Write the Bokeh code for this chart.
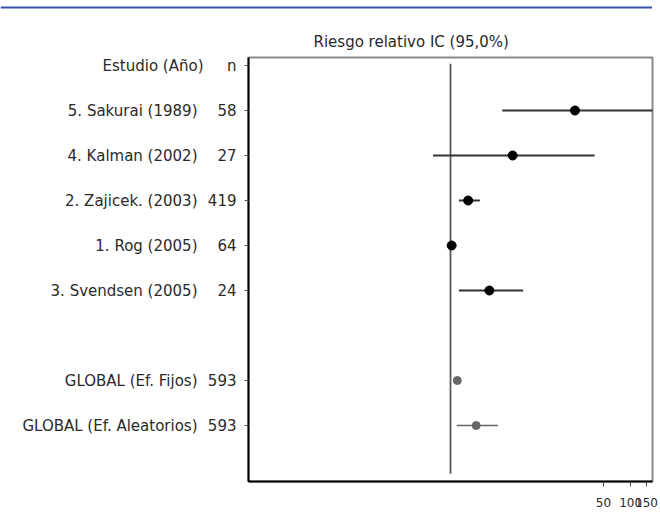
from bokeh.plotting import figure
from bokeh.models import Range1d, FixedTicker, Span
from bokeh.layouts import column, row
from bokeh.core.properties import value
from bokeh.embed import file_html
from bokeh.resources import INLINE

# ---- data ----
header_name = "Estudio (Año)"
header_n = "n"
studies = ["5. Sakurai (1989)", "4. Kalman (2002)", "2. Zajicek. (2003)",
           "1. Rog (2005)", "3. Svendsen (2005)"]
study_n = ["58", "27", "419", "64", "24"]
study_rr = [24.1, 4.9, 1.57, 1.03, 2.7]
study_lo = [3.75, 0.64, 1.24, 0.97, 1.24]
study_hi = [250.0, 39.8, 2.12, 1.12, 6.4]

pooled = ["GLOBAL (Ef. Fijos)", "GLOBAL (Ef. Aleatorios)"]
pooled_n = ["593", "593"]
pooled_rr = [1.19, 1.93]
pooled_lo = [1.12, 1.17]
pooled_hi = [1.27, 3.35]

x_ticks = [50, 100, 150]
ref_value = 1.0
title_text = "Riesgo relativo IC (95,0%)"

# row positions: header row 0, studies, one blank row, pooled rows
study_rows = [i + 1 for i in range(len(studies))]
blank_row = len(studies) + 1
pooled_rows = [blank_row + 1 + i for i in range(len(pooled))]
name_rows = study_rows + pooled_rows
names = studies + pooled
ns = study_n + pooled_n

FONT = "DejaVu Sans"
TXT = "#2a2a2a"
FS = "15px"
H = 502
TOP = 47
BOTTOM = 31
LW = 203

yr = Range1d(9.244, -0.178)

# ---- main forest plot ----
p = figure(width=455, height=H, x_axis_type="log",
           x_range=Range1d(1 / 175.0, 175.0), y_range=yr,
           output_backend="svg", toolbar_location=None,
           min_border_left=45, min_border_right=6,
           min_border_top=TOP, min_border_bottom=BOTTOM)
p.grid.visible = False
p.background_fill_color = "white"
p.border_fill_color = "white"
p.outline_line_color = "#8a8a8a"
p.outline_line_width = 2

p.title.text = title_text
p.title.align = "left"
p.title.offset = 65
p.title.standoff = 14
p.title.text_font = FONT
p.title.text_font_size = FS
p.title.text_font_style = "normal"
p.title.text_color = TXT

p.xaxis.ticker = FixedTicker(ticks=x_ticks)
p.xaxis.minor_tick_line_color = None
p.xaxis.axis_line_color = "black"
p.xaxis.axis_line_width = 2
p.xaxis.major_tick_out = 5
p.xaxis.major_tick_in = 0
p.xaxis.major_tick_line_color = "#444444"
p.xaxis.major_label_standoff = 11
p.xaxis.major_label_text_font = FONT
p.xaxis.major_label_text_font_size = "12px"
p.xaxis.major_label_text_color = TXT

# y axis: the "n" column is the axis' own tick labels
y_ticks = [0] + name_rows
p.yaxis.ticker = FixedTicker(ticks=y_ticks)
p.yaxis.major_label_overrides = {t: s for t, s in zip(y_ticks, [header_n] + ns)}
p.yaxis.minor_tick_line_color = None
p.yaxis.axis_line_color = "black"
p.yaxis.axis_line_width = 2
p.yaxis.major_tick_out = 4
p.yaxis.major_tick_in = 0
p.yaxis.major_tick_line_color = "#555555"
p.yaxis.major_label_standoff = 8
p.yaxis.major_label_text_font = FONT
p.yaxis.major_label_text_font_size = FS
p.yaxis.major_label_text_color = TXT

# reference line at RR = 1
p.segment(x0=[ref_value], x1=[ref_value], y0=[-0.04], y1=[9.07],
          line_color="#5a5a5a", line_width=1.8)

# study CIs and points
p.segment(x0=study_lo, x1=study_hi, y0=study_rows, y1=study_rows,
          line_color="#333333", line_width=2)
p.scatter(x=study_rr, y=study_rows, size=9, marker="circle",
          fill_color="black", line_color="black")

# pooled CIs and points
p.segment(x0=pooled_lo, x1=pooled_hi, y0=pooled_rows, y1=pooled_rows,
          line_color="#666666", line_width=1.5)
p.scatter(x=pooled_rr, y=pooled_rows, size=8, marker="circle",
          fill_color="#666666", line_color="#666666")

# ---- left label panel (study names) ----
lab = figure(width=LW, height=H, x_range=Range1d(0, LW), y_range=yr,
             x_axis_location=None, y_axis_location=None,
             output_backend="svg", toolbar_location=None,
             min_border_left=0, min_border_right=0,
             min_border_top=TOP, min_border_bottom=BOTTOM)
lab.grid.visible = False
lab.outline_line_color = None
lab.background_fill_color = "white"
lab.border_fill_color = "white"

common = dict(text_align="right", text_baseline="middle",
              text_font=value(FONT), text_font_size=FS, text_color=TXT)
lab.text(x=[203], y=[0], text=[header_name], **common)
lab.text(x=[197] * len(names), y=name_rows, text=names, **common)

# ---- top blue rule ----
bar = figure(width=652, height=10, output_backend="svg", toolbar_location=None,
             x_axis_location=None, y_axis_location=None,
             min_border=0, x_range=Range1d(0, 1), y_range=Range1d(0, 10))
bar.grid.visible = False
bar.outline_line_color = None
bar.background_fill_color = "white"
bar.border_fill_color = "white"
bar.add_layout(Span(location=5, dimension="width", line_color="#3a4fa8",
                    line_width=2))

layout = column(bar, row(lab, p, spacing=0), spacing=0)
open("out.html", "w").write(file_html(layout, INLINE))
